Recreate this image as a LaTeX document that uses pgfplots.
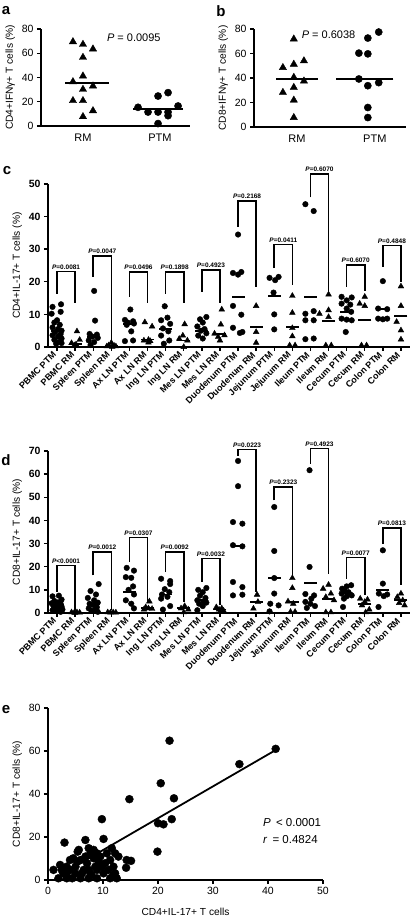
\documentclass[border=0pt]{standalone}
\usepackage{fontspec}
\setmainfont{Liberation Sans}
\usepackage{pgfplots}
\pgfplotsset{compat=1.18}
\usepackage{pgfplotstable}

\pgfplotsset{
  gp/.style={scale only axis, axis lines=left,
    axis line style={-, line width=2pt},
    tick align=outside, major tick length=4pt,
    tick style={line width=1.4pt, black},
    /pgf/number format/assume math mode=true,
    clip=false,
    ticklabel style={font=\fontsize{10.5}{12}\selectfont},
    label style={font=\fontsize{10.2}{12}\selectfont}},
  circ/.style={only marks, mark=*, mark options={fill=black, draw=black}},
  tri/.style={only marks, mark=triangle*, mark options={fill=black, draw=black}},
  med/.style={only marks, mark=-, mark options={line width=1.8pt, draw=black}},
}

\newcommand{\brk}[7]{%
  \addplot[line width=1.6pt, mark=none] coordinates {(#1,#4) (#1,#3) (#2,#3) (#2,#5)};
  \node[font=\bfseries\fontsize{6.5}{7.5}\selectfont, above, inner sep=1pt, yshift=1pt] at (axis cs:#6,#3) {\textit{P}#7};
}

% ---------- panel c data ----------
\pgfplotstableread{
x y
-0.25 12.3
0.22 13.1
-0.3 10.2
0.2 10.8
0 8.2
-0.15 7.5
0.15 6.8
-0.25 6
0.05 5.5
0.25 5
-0.1 4.6
0.2 4
-0.25 3.6
0.05 3.2
0.25 2.6
-0.15 2.2
0.1 1.5
-0.05 1
0.25 1.2
2.05 17.2
2.1 8.1
1.8 4
2.2 3.8
1.95 3.2
2.25 2.8
1.75 2
2.05 1.5
1.85 0.6
4.05 11.5
3.75 8.3
4.2 7.9
3.9 7.5
4.25 7.2
3.85 6.8
4.1 4.8
4.2 2
3.75 1.8
5.95 12.5
6.1 9
5.75 8.2
6.25 7.1
5.85 5.7
6.15 4.8
5.75 3.5
6.2 2
5.9 1
8.25 9.2
7.9 8.5
8.05 7.5
7.75 6.3
8.15 5.5
7.95 5
8.25 4.2
7.8 3.5
8.05 2.6
10 34.5
9.72 22.7
10.18 23
10 22.2
9.72 12.6
10.18 9.9
9.72 5.9
10.1 4.3
10.24 4.6
11.74 21.2
12.05 20.5
12.24 21.5
11.96 16.7
12 10
12 5.4
13.72 43.8
14.18 41.7
13.72 10.2
14.18 11
13.72 8.2
14.18 8.2
13.72 2.4
14.18 2.6
15.72 15.4
16.28 15.2
16 14.3
15.72 13.3
16.2 13
16 11.8
16.25 10.8
15.72 8.7
16 8.4
16.28 8.2
15.95 4.6
18 20.2
17.74 11.8
18.24 11.6
17.74 8.7
18 8.5
18.24 8.7
}\cptm
\pgfplotstableread{
x y
1.1 4.8
1.25 2.2
0.8 1.2
1.05 0.8
0.95 0.5
3 1.3
2.85 0.5
3.15 0.4
3.25 0.2
2.75 0.2
3.05 0.1
5.25 6.3
4.85 7.6
5.05 2.2
4.8 2
5.15 1.8
5.05 1.4
7.05 7
6.95 3.5
6.75 2.5
7.2 2
7 0
9.1 11.5
9.05 6.9
8.7 4.1
9.25 3.6
8.9 3.1
9 2
11 12.6
11 4.6
11 1.3
13 15.7
13 10.5
13 5.8
13 3.3
12.85 0.5
13.15 0.5
15 16.1
15 11.3
14.5 10.2
15 9.2
14.85 0.5
15.15 0.5
16.72 13.3
17 15.4
17 12.6
16.82 0.5
17.1 0.5
19 18.6
19 12.6
18.76 7.7
19 5.1
19 2.3
}\crm
\pgfplotstableread{
x y
0 4.8
1 1
2 3
3 0.3
4 7
5 2.3
6 5.5
7 2
8 5
9 4.1
10 15.4
11 6.1
12 15.7
13 6.1
14 15.4
15 7.9
16 10.8
17 8.2
18 11.6
19 9.4
}\cmed

% ---------- panel d data ----------
\pgfplotstableread{
x y
-0.25 7.2
0.1 7.5
0.25 5.8
-0.15 5.2
0.05 4.6
-0.3 4.2
0.2 4
0 3.5
-0.2 3
0.25 2.8
0.1 2.2
-0.1 1.8
0.3 1.5
-0.25 1.2
0.05 0.8
0.2 0.5
-0.05 1.3
2.3 12.5
1.85 9.5
2.15 8
1.7 6.5
2.05 5.5
2.25 4.5
1.8 4
2 3.5
2.2 2.5
1.75 2
2.1 1.5
1.9 1
2.25 0.5
3.85 19.5
4.25 18.3
3.8 15.5
4.1 15.2
4.2 11.5
3.95 10
4.25 8
3.8 5.5
4.1 4
4.25 2
5.75 14.8
6.25 13.8
6.25 12.5
5.95 10.3
6.2 9
5.8 8
6.1 7
5.75 6.2
6.25 3
5.85 1.5
8.25 10.8
7.8 10
8.05 9
7.9 7.5
8.2 6.5
7.75 5.5
8.1 5
8.25 4.5
7.85 4
8.05 3
7.75 1.2
10 65.7
10 54.8
9.72 39.3
10.24 38.6
9.72 29.3
10.24 28.8
9.72 13.4
10.24 11.2
9.72 7.6
10.24 7.9
12 45.8
12 26.8
12 15.1
12 8.4
11.78 4
12.24 3.3
11.74 0.7
13.95 61.7
13.95 19.9
13.72 8.2
14.2 7.6
14.05 6.2
13.72 4.8
14 4
14.25 3
13.8 2.2
15.75 10.5
16 11.5
16.25 12
15.9 9.5
16.1 9
15.72 8.4
16.2 8
16 7.2
15.85 6.2
16.28 7.6
15.8 2.6
18 27.1
18 12.7
17.78 8.4
18.24 8
18.05 7.3
17.76 2.6
}\dptm
\pgfplotstableread{
x y
0.8 0.3
0.95 0.2
1.1 0.3
1.25 0.2
1 0.1
2.8 0.3
2.95 0.2
3.1 0.3
3.25 0.2
5.1 5
4.9 2.5
5.05 2
5.25 1.8
4.8 1.5
7.05 3
6.85 2
7.25 1.5
7 0.3
8.8 2.5
9.1 2
8.95 1.5
9.2 1
9 0.5
11.05 7.9
11.1 4.8
10.85 1.9
13 15.1
13 10.8
12.76 5
13.05 4
12.9 0.5
13.15 0.5
15 12.2
14.7 10.5
15.13 8.4
14.85 6.9
15.3 5.5
14.85 0.3
15.13 0.3
16.75 6.2
17.15 5.8
17 4.8
16.85 3.3
17.25 1.5
17.05 0.3
19 8.4
18.8 6.9
19.1 5.5
18.9 4.3
19.2 3.3
}\drm
\pgfplotstableread{
x y
0 3.5
1 0.1
2 3.8
3 0.2
4 9
5 2
6 8
7 2.3
8 5.5
9 1.5
10 29
11 4.8
12 15.1
13 4.8
14 13.1
15 6.2
16 8.4
17 4
18 9.8
19 5.5
}\dmed

% ---------- panel e data ----------
\pgfplotstableread{
x y
22.1 64.8
41.4 61
34.8 53.9
20.5 45
14.8 37.6
22.9 38
9.8 28.3
22.5 28.3
20 26.4
21 25.9
10.1 19.1
6.8 18.6
3 17.4
19.9 13.2
5.4 13.2
7.4 14.8
8.3 14
11.6 14.8
12.2 12.4
14.3 9.3
15.1 8.9
14.2 5.7
1 4.7
2.2 7
3.1 4.7
4 9.3
4.6 10.1
5.9 9.3
5.6 14
6.5 4.7
5 6.2
3.4 3.1
1.9 0.8
4.4 0.8
5.9 0.8
7.4 0.8
8.9 0.8
10.1 3.1
11 4.7
11.9 6.2
12.2 3.1
12.5 0.8
11.3 0.8
7.7 3.1
8.6 6.2
9.2 8.5
8.3 10.1
9.8 6.2
7.1 7.8
6.2 3.1
3.4 6.2
2.8 3.1
7.4 4.7
8.9 4.7
10.4 7.8
11.3 9.3
9.5 10.9
7.7 12.4
6.8 10.9
4 4.7
5 3.1
3.4 0.8
11.9 2.3
5.3 8.5
7.9 2.3
8.9 12.4
10.7 12.4
2.5 4.7
12.8 10.9
}\edata

\begin{document}
\begin{tikzpicture}
\path[use as bounding box] (0pt,0pt) rectangle (413pt,923pt);

% panel letters
\node[font=\bfseries\fontsize{15}{17}\selectfont] at (6pt,912pt) {a};
\node[font=\bfseries\fontsize{15}{17}\selectfont] at (221pt,912pt) {b};
\node[font=\bfseries\fontsize{15}{17}\selectfont] at (7pt,752pt) {c};
\node[font=\bfseries\fontsize{15}{17}\selectfont] at (6pt,463pt) {d};
\node[font=\bfseries\fontsize{15}{17}\selectfont] at (6pt,213pt) {e};

% ---------- a ----------
\begin{axis}[gp, at={(41pt,797pt)}, anchor=south west, width=149pt, height=97pt,
  xmin=0.455, xmax=2.39, ymin=0, ymax=80, ytick={0,20,...,80},
  xtick={1,2}, xticklabels={RM,PTM}, x tick style={draw=none},
  xticklabel style={font=\fontsize{11}{13}\selectfont},
  ylabel={CD4+IFNγ+ T cells (\%)}]
\addplot[tri, mark size=4.2pt] coordinates {(0.87,69.5) (1.0,67.3) (1.13,63.5) (1.0,56.6) (1.0,41.2) (0.87,36.5) (1.13,33) (1.0,30.2) (0.87,20.9) (1.0,20.9) (1.13,12.6) (1.0,7.7)};
\addplot[circ, mark size=3.6pt] coordinates {(2.105,27.5) (1.975,24.7) (2.235,16.5) (1.715,15.4) (1.845,11.5) (1.975,11.5) (2.105,11.5) (2.105,8.5) (1.975,2)};
\addplot[med, mark size=21.7pt] coordinates {(1.05,35.7)};
\addplot[med, mark size=25pt] coordinates {(1.975,13.7)};
\node[font=\fontsize{11}{13}\selectfont, anchor=west, inner sep=0pt] at (axis cs:1.31,72.6) {\textit{P} = 0.0095};
\end{axis}

% ---------- b ----------
\begin{axis}[gp, at={(254pt,796pt)}, anchor=south west, width=152pt, height=98pt,
  xmin=0.449, xmax=2.40, ymin=0, ymax=80, ytick={0,20,...,80},
  xtick={1,2}, xticklabels={RM,PTM}, x tick style={draw=none},
  xticklabel style={font=\fontsize{11}{13}\selectfont},
  ylabel={CD8+IFNγ+ T cells (\%)}]
\addplot[tri, mark size=4.2pt] coordinates {(0.96,71.8) (1.09,54) (0.96,51.2) (0.82,48.5) (0.96,40.5) (1.09,37.5) (0.96,32.3) (0.82,28.2) (0.96,21.9) (0.96,7.7)};
\addplot[circ, mark size=3.6pt] coordinates {(2.05,77.5) (1.91,72.6) (1.795,60.3) (1.91,59.7) (1.795,39.2) (2.05,36.2) (1.91,33.7) (1.91,15.9) (1.91,7.7)};
\addplot[med, mark size=20.8pt] coordinates {(1.0,39.3)};
\addplot[med, mark size=28.7pt] coordinates {(1.87,39.5)};
\node[font=\fontsize{11}{13}\selectfont, anchor=west, inner sep=0pt] at (axis cs:1.06,75) {\textit{P} = 0.6038};
\end{axis}

% ---------- c ----------
\begin{axis}[gp, at={(48pt,576pt)}, anchor=south west, width=362pt, height=163pt,
  xmin=-0.5, xmax=19.5, ymin=0, ymax=50, ytick={0,10,...,50},
  yticklabel style={font=\bfseries\fontsize{10.5}{12}\selectfont},
  xtick={0,...,19},
  xticklabels={PBMC PTM,PBMC RM,Spleen PTM,Spleen RM,Ax LN PTM,Ax LN RM,Ing LN PTM,Ing LN RM,Mes LN PTM,Mes LN RM,Duodenum PTM,Duodenum RM,Jejunum PTM,Jejunum RM,Ileum PTM,Ileum RM,Cecum PTM,Cecum RM,Colon PTM,Colon RM},
  xticklabel style={rotate=45, anchor=east, font=\bfseries\fontsize{9}{10}\selectfont},
  ylabel={CD4+IL-17+ T cells (\%)}]
\addplot[circ, mark size=2.8pt] table[x=x,y=y] {\cptm};
\addplot[tri, mark size=3.3pt] table[x=x,y=y] {\crm};
\addplot[med, mark size=6.5pt] table[x=x,y=y] {\cmed};
\brk{0}{1}{23.1}{16.3}{13.4}{0.5}{=0.0081}
\brk{2}{3}{27.9}{21.6}{1.2}{2.5}{=0.0047}
\brk{4}{5}{23}{15.4}{13.4}{4.5}{=0.0496}
\brk{6}{7}{23}{16.3}{13.4}{6.5}{=0.1898}
\brk{8}{9}{23.6}{17}{13.4}{8.5}{=0.4923}
\brk{10}{11}{44.8}{36.9}{18.5}{10.5}{=0.2168}
\brk{12}{13}{31.5}{24.2}{19}{12.5}{=0.0411}
\brk{14}{15}{53}{45.9}{17.1}{14.5}{=0.6070}
\brk{16}{17}{25.2}{18.5}{17.1}{16.5}{=0.6070}
\brk{18}{19}{31.1}{24.6}{20}{18.5}{=0.4848}
\end{axis}

% ---------- d ----------
\begin{axis}[gp, at={(48pt,310pt)}, anchor=south west, width=362pt, height=162pt,
  xmin=-0.5, xmax=19.5, ymin=0, ymax=70, ytick={0,10,...,70},
  yticklabel style={font=\bfseries\fontsize{10.5}{12}\selectfont},
  xtick={0,...,19},
  xticklabels={PBMC PTM,PBMC RM,Spleen PTM,Spleen RM,Ax LN PTM,Ax LN RM,Ing LN PTM,Ing LN RM,Mes LN PTM,Mes LN RM,Duodenum PTM,Duodenum RM,Jejunum PTM,Jejunum RM,Ileum PTM,Ileum RM,Cecum PTM,Cecum RM,Colon PTM,Colon RM},
  xticklabel style={rotate=45, anchor=east, font=\bfseries\fontsize{9}{10}\selectfont},
  ylabel={CD8+IL-17+ T cells (\%)}]
\addplot[circ, mark size=2.8pt] table[x=x,y=y] {\dptm};
\addplot[tri, mark size=3.3pt] table[x=x,y=y] {\drm};
\addplot[med, mark size=6.5pt] table[x=x,y=y] {\dmed};
\brk{0}{1}{20.6}{9.1}{1.2}{0.5}{<0.0001}
\brk{2}{3}{26.4}{16.3}{1.2}{2.5}{=0.0012}
\brk{4}{5}{32.6}{22}{4.8}{4.5}{=0.0307}
\brk{6}{7}{26.4}{17.7}{4.8}{6.5}{=0.0092}
\brk{8}{9}{23.5}{13.4}{3.3}{8.5}{=0.0032}
\brk{10}{11}{70.7}{68}{9}{10.5}{=0.0223}
\brk{12}{13}{54.5}{48.7}{16.3}{12.5}{=0.2323}
\brk{14}{15}{71}{64.6}{17}{14.5}{=0.4923}
\brk{16}{17}{23.9}{14.8}{7.6}{16.5}{=0.0077}
\brk{18}{19}{36.7}{30}{12}{18.5}{=0.0813}
\end{axis}

% ---------- e ----------
\begin{axis}[gp, at={(48pt,43pt)}, anchor=south west, width=275pt, height=172pt,
  xmin=0, xmax=50, ymin=0, ymax=80, xtick={0,10,...,50}, ytick={0,20,...,80},
  xlabel={CD4+IL-17+ T cells}, xlabel style={yshift=-6pt},
  ylabel={CD8+IL-17+ T cells (\%)}]
\addplot[circ, mark size=4pt] table[x=x,y=y] {\edata};
\addplot[line width=1.8pt, mark=none] coordinates {(5,6.5) (41.5,60.6)};
\node[font=\fontsize{11.5}{13}\selectfont, anchor=west, inner sep=0pt] at (axis cs:39.1,26.7) {\textit{P}\, < 0.0001};
\node[font=\fontsize{11.5}{13}\selectfont, anchor=west, inner sep=0pt] at (axis cs:39.1,18.6) {\textit{r}\, = 0.4824};
\end{axis}
\end{tikzpicture}
\end{document}
